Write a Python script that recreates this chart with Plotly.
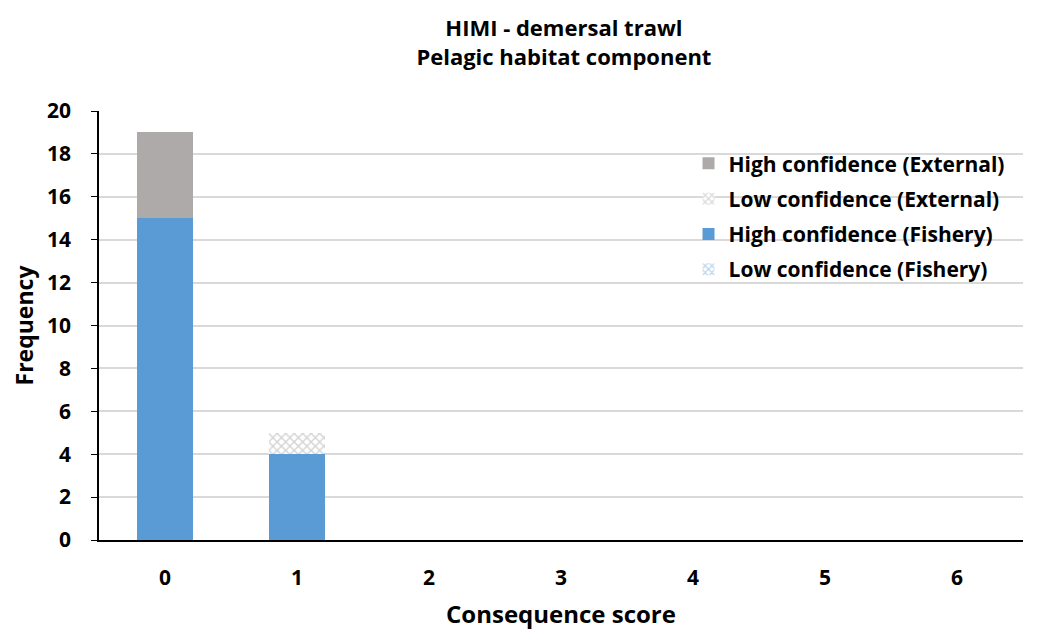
import plotly.graph_objects as go

categories = ["0", "1", "2", "3", "4", "5", "6"]
high_fishery = [15, 4, 0, 0, 0, 0, 0]
low_fishery = [0, 0, 0, 0, 0, 0, 0]
high_external = [4, 0, 0, 0, 0, 0, 0]
low_external = [0, 1, 0, 0, 0, 0, 0]

FONT = "Open Sans"
fig = go.Figure()
fig.add_trace(go.Bar(x=categories, y=high_fishery, name="<b>High confidence (Fishery)</b>",
                     legendgroup="hf",
                     marker=dict(color="#5B9BD5", line=dict(width=0)), legendrank=3))
fig.add_trace(go.Bar(x=categories, y=low_fishery, name="<b>Low confidence (Fishery)</b>",
                     legendgroup="lf",
                     marker=dict(color="white", line=dict(width=0),
                                 pattern=dict(shape="x", fgcolor="#5B9BD5", bgcolor="white", size=6, solidity=0.4)),
                     legendrank=4))
fig.add_trace(go.Bar(x=categories, y=high_external, name="<b>High confidence (External)</b>",
                     legendgroup="he",
                     marker=dict(color="#AEAAAA", line=dict(width=0)), legendrank=1))
fig.add_trace(go.Bar(x=categories, y=low_external, name="<b>Low confidence (External)</b>",
                     legendgroup="le",
                     marker=dict(color="white", line=dict(width=0),
                                 pattern=dict(shape="x", fgcolor="#A5A5A5", bgcolor="white", size=6, solidity=0.4)),
                     legendrank=2))

fig.update_layout(
    barmode="stack",
    bargap=0.58,
    width=1041, height=630,
    paper_bgcolor="white", plot_bgcolor="white",
    margin=dict(l=91, r=26, t=103, b=98, autoexpand=False),
    font=dict(family=FONT, color="black", size=16),
    title=dict(text="<b>HIMI - demersal trawl<br>Pelagic habitat component</b>",
               x=0.534, xanchor="center", y=0.955, yanchor="middle",
               font=dict(family=FONT, size=22, color="black")),
    legend=dict(x=0.638, y=0.925, xanchor="left", yanchor="top", bgcolor="rgba(0,0,0,0)",
                traceorder="grouped",
                font=dict(family=FONT, size=21, color="black"), tracegroupgap=5,
                itemsizing="constant"),
    xaxis=dict(title=dict(text="<b>Consequence score</b>", font=dict(size=24), standoff=16),
               tickfont=dict(size=21), ticktext=[f"<b>{c}</b>" for c in categories], tickvals=categories,
               ticklabelstandoff=18,
               showline=True, linecolor="black", linewidth=1.5, ticks="", showgrid=False),
    yaxis=dict(title=dict(text="<b>Frequency</b>", font=dict(size=23), standoff=12),
               range=[0, 20], dtick=2, tickfont=dict(size=21),
               tickprefix="<b>", ticksuffix="</b>", ticklabelstandoff=16,
               showline=True, linecolor="black", linewidth=1.5, ticks="outside", ticklen=6,
               tickcolor="black", gridcolor="#D9D9D9", gridwidth=1.5, zeroline=False),
)
fig.write_html("out.html")
